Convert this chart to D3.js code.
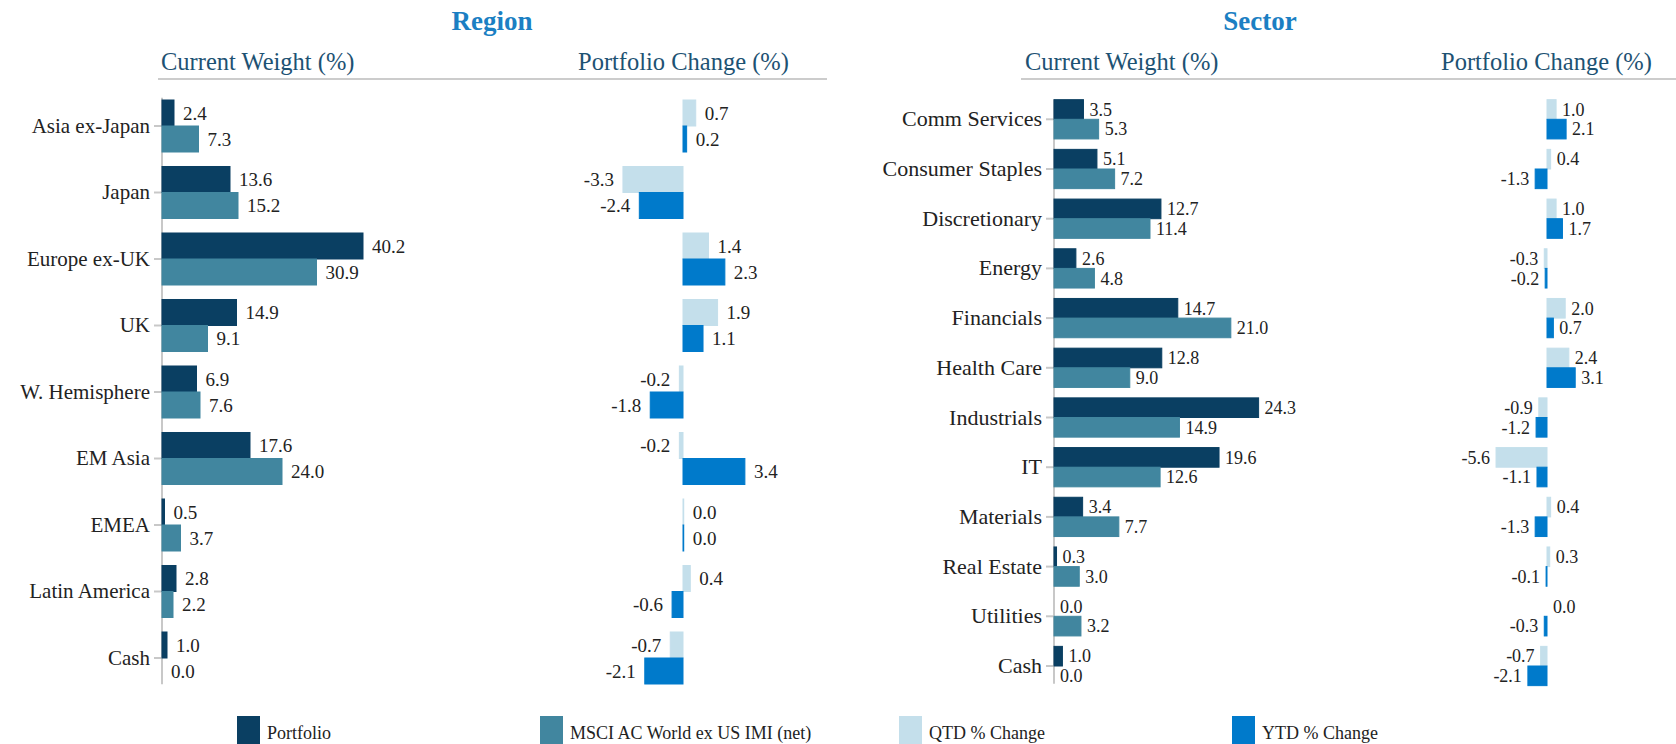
<!DOCTYPE html>
<html>
<head>
<meta charset="utf-8">
<script src="https://cdn.jsdelivr.net/npm/d3@7"></script>
<style>
  body { margin: 0; background: #fff; }
  text { font-family: "Liberation Serif", "DejaVu Serif", serif; }
</style>
</head>
<body>
<svg id="chart" width="1676" height="744"></svg>
<script>
// region data
var regions = ["Asia ex-Japan", "Japan", "Europe ex-UK", "UK", "W. Hemisphere", "EM Asia", "EMEA", "Latin America", "Cash"];
var regPortfolio = [2.4, 13.6, 40.2, 14.9, 6.9, 17.6, 0.5, 2.8, 1.0];
var regBench = [7.3, 15.2, 30.9, 9.1, 7.6, 24.0, 3.7, 2.2, 0.0];
var regQTD = [0.7, -3.3, 1.4, 1.9, -0.2, -0.2, 0.04, 0.4, -0.7];
var regYTD = [0.2, -2.4, 2.3, 1.1, -1.8, 3.4, 0.04, -0.6, -2.1];

// sector data
var sectors = ["Comm Services", "Consumer Staples", "Discretionary", "Energy", "Financials", "Health Care", "Industrials", "IT", "Materials", "Real Estate", "Utilities", "Cash"];
var secPortfolio = [3.5, 5.1, 12.7, 2.6, 14.7, 12.8, 24.3, 19.6, 3.4, 0.3, 0.0, 1.0];
var secBench = [5.3, 7.2, 11.4, 4.8, 21.0, 9.0, 14.9, 12.6, 7.7, 3.0, 3.2, 0.0];
var secQTD = [1.0, 0.4, 1.0, -0.3, 2.0, 2.4, -0.9, -5.6, 0.4, 0.3, 0.0, -0.7];
var secYTD = [2.1, -1.3, 1.7, -0.2, 0.7, 3.1, -1.2, -1.1, -1.3, -0.1, -0.3, -2.1];

var legendLabels = ["Portfolio", "MSCI AC World ex US IMI (net)", "QTD % Change", "YTD % Change"];

var colPortfolio = "#0a3f62", colBench = "#41869f", colQTD = "#c4dfeb", colYTD = "#007acb";
var legendColors = [colPortfolio, colBench, colQTD, colYTD];

var svg = d3.select("#chart");

function drawPanel(p) {
  var g = svg.append("g");

  // titles
  g.append("text")
    .attr("x", p.titleX).attr("y", 30)
    .attr("text-anchor", "middle")
    .style("font-size", "27px").style("font-weight", "bold")
    .style("fill", "#1b7fc3")
    .text(p.title);

  g.append("text")
    .attr("x", p.head1X).attr("y", 70)
    .style("font-size", "24.5px").style("fill", "#1d5273")
    .text("Current Weight (%)");
  g.append("text")
    .attr("x", p.head2X).attr("y", 70)
    .style("font-size", "24.5px").style("fill", "#1d5273")
    .text("Portfolio Change (%)");

  g.append("line")
    .attr("x1", p.lineX1).attr("x2", p.lineX2)
    .attr("y1", 79).attr("y2", 79)
    .style("stroke", "#9a9a9a").style("stroke-width", 1.2);

  var y = d3.scaleBand()
    .domain(p.cats)
    .range([p.y0, p.y1])
    .paddingInner(p.pad)
    .paddingOuter(p.pad / 2);

  var sub = d3.scaleBand()
    .domain([0, 1])
    .range([0, y.bandwidth()]);

  var xw = d3.scaleLinear().domain([0, 1]).range([p.wZero, p.wZero + p.wUnit]);
  var xc = d3.scaleLinear().domain([0, 1]).range([p.cZero, p.cZero + p.cUnit]);

  // category axis
  var yAxis = d3.axisLeft(y).tickSize(8).tickPadding(4);
  var ax = g.append("g")
    .attr("transform", "translate(" + p.wZero + ",0)")
    .call(yAxis);
  ax.select(".domain").remove();
  ax.selectAll(".tick line").style("stroke", "#c8c8c8").style("stroke-width", 2);
  ax.selectAll(".tick text")
    .style("font-size", p.catSize + "px")
    .style("fill", "#222")
    .style("font-family", "'Liberation Serif', serif");

  g.append("line")
    .attr("x1", p.wZero).attr("x2", p.wZero)
    .attr("y1", p.y0 + 5).attr("y2", p.y1 - 7)
    .style("stroke", "#c8c8c8").style("stroke-width", 2);

  function bars(vals, xs, color, idx, gap) {
    var rows = p.cats.map(function(c, i) { return { c: c, v: vals[i] }; });
    g.append("g").selectAll("rect")
      .data(rows).enter().append("rect")
      .attr("x", function(d) { return Math.min(xs(0), xs(d.v)); })
      .attr("y", function(d) { return y(d.c) + sub(idx); })
      .attr("width", function(d) { return Math.abs(xs(d.v) - xs(0)); })
      .attr("height", sub.bandwidth())
      .style("fill", color)
      .style("stroke", color).style("stroke-width", 1);

    g.append("g").selectAll("text")
      .data(rows).enter().append("text")
      .attr("x", function(d) { return d.v < 0 ? xs(d.v) - gap : xs(d.v) + gap; })
      .attr("y", function(d) { return y(d.c) + sub(idx) + sub.bandwidth() / 2; })
      .attr("dy", "0.35em")
      .attr("text-anchor", function(d) { return d.v < 0 ? "end" : "start"; })
      .style("font-size", p.valSize + "px")
      .style("fill", "#222")
      .text(function(d) { return d.v.toFixed(1); });
  }

  bars(p.port, xw, colPortfolio, 0, p.gap);
  bars(p.bench, xw, colBench, 1, p.gap);
  bars(p.qtd, xc, colQTD, 0, p.gap);
  bars(p.ytd, xc, colYTD, 1, p.gap);
}

drawPanel({
  title: "Region", titleX: 492,
  head1X: 161, head2X: 578, lineX1: 158, lineX2: 827,
  cats: regions, port: regPortfolio, bench: regBench, qtd: regQTD, ytd: regYTD,
  y0: 92.75, y1: 691.25, pad: 0.218,
  wZero: 162, wUnit: 5.0, cZero: 683, cUnit: 18.2,
  catSize: 21, valSize: 19, gap: 9
});

drawPanel({
  title: "Sector", titleX: 1260,
  head1X: 1025, head2X: 1441, lineX1: 1021, lineX2: 1676,
  cats: sectors, port: secPortfolio, bench: secBench, qtd: secQTD, ytd: secYTD,
  y0: 94.45, y1: 690.85, pad: 0.21,
  wZero: 1054, wUnit: 8.42, cZero: 1547, cUnit: 9.1,
  catSize: 22, valSize: 18, gap: 6
});

// legend
var legendX = [237, 540, 899, 1232];
var lg = svg.append("g").selectAll("g")
  .data(legendLabels).enter().append("g")
  .attr("transform", function(d, i) { return "translate(" + legendX[i] + ",716)"; });
lg.append("rect")
  .attr("width", 23).attr("height", 30)
  .style("fill", function(d, i) { return legendColors[i]; });
lg.append("text")
  .attr("x", 30).attr("y", 23)
  .style("font-size", "18px").style("fill", "#222")
  .text(function(d) { return d; });
</script>
</body>
</html>
